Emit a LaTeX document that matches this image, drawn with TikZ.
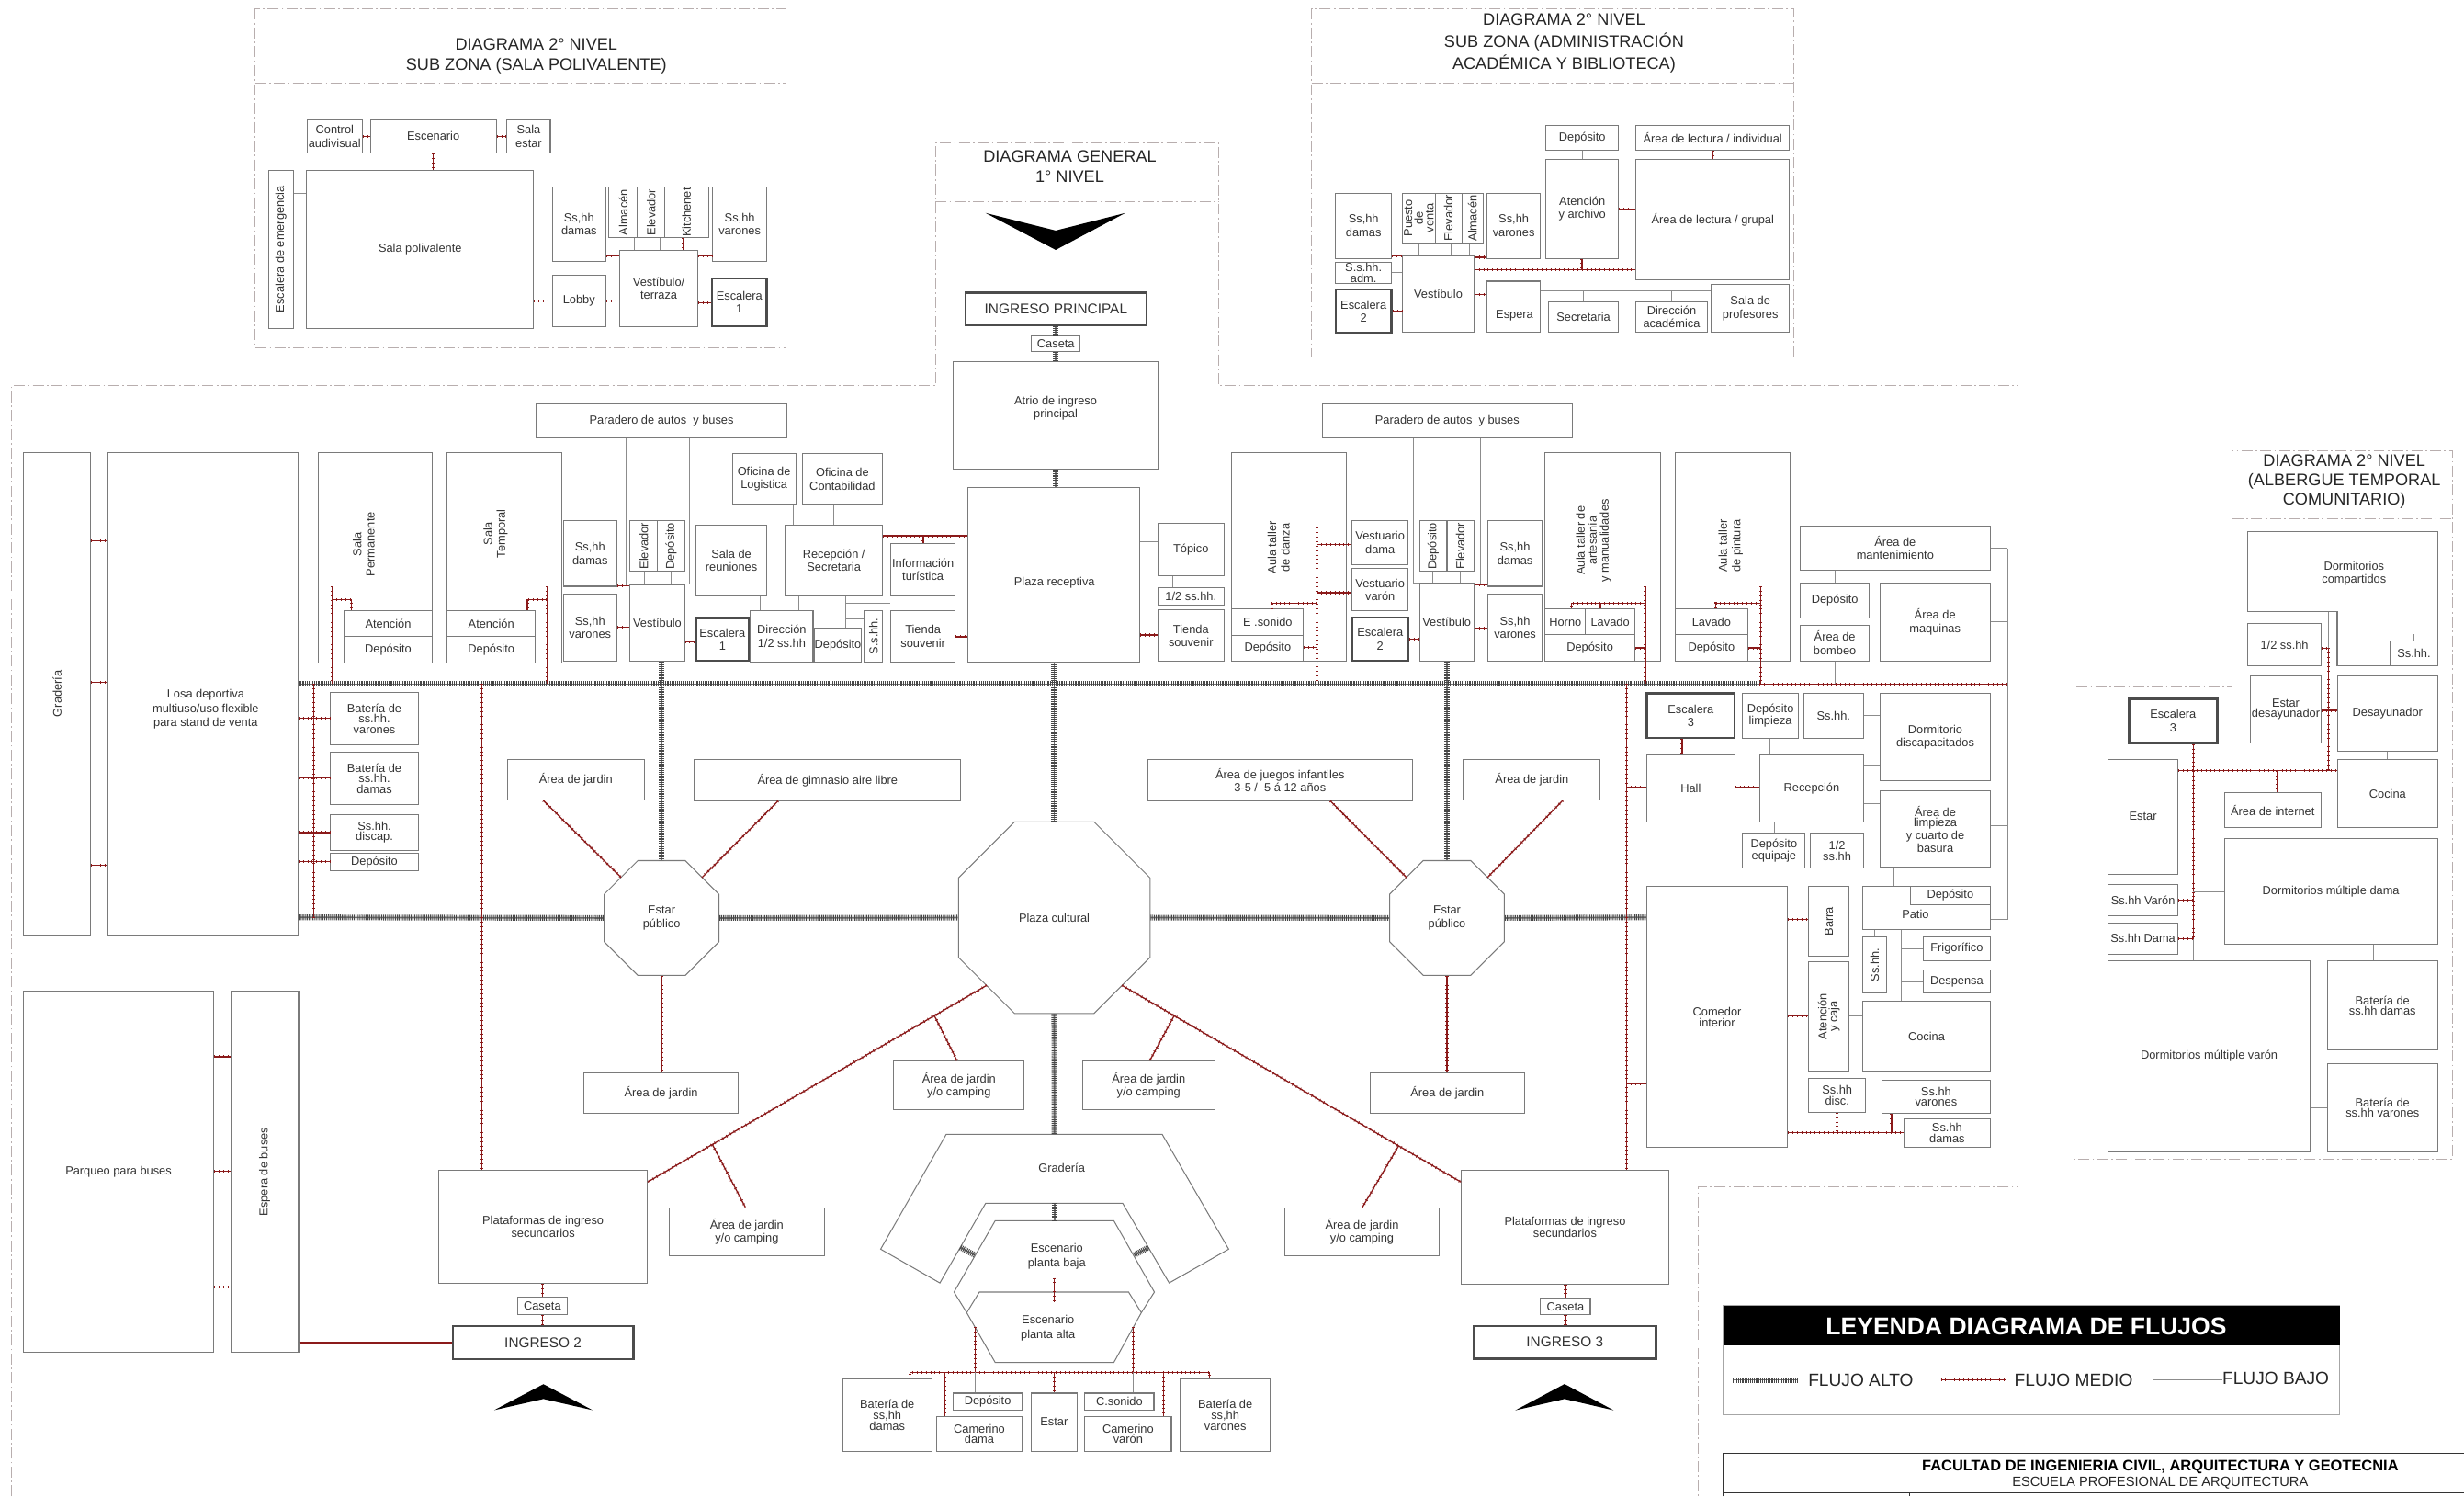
\documentclass[tikz,border=0pt]{standalone}
\usepackage{fontspec}
\setmainfont{Liberation Sans}
\usetikzlibrary{shapes.geometric,calc}
\definecolor{tcol}{HTML}{333333}
\definecolor{bcol}{HTML}{7A7A7A}
\definecolor{mred}{HTML}{8B1A1A}
\definecolor{agray}{HTML}{555555}
\definecolor{rcol}{HTML}{B8AEAE}
\tikzset{
 bx/.style={draw=bcol, line width=0.6pt, fill=white, inner sep=0pt, align=center, text=tcol},
 bxl/.style={draw=bcol, line width=0.6pt, fill=white},
 thk/.style={draw=black!70, line width=1.4pt},
 txt/.style={inner sep=0pt, align=center, text=tcol},
 tight/.style={font=\fontsize{7.5}{6.8}\selectfont},
 ttl/.style={inner sep=0pt, align=center, text=black!85, font=\fontsize{10.6}{12.7}\selectfont},
 oct/.style={draw=bcol, line width=0.6pt, fill=white, regular polygon, regular polygon sides=8, inner sep=0pt, align=center, text=tcol},
 reg/.style={draw=rcol, line width=0.5pt, dash pattern=on 7pt off 2pt on 1pt off 2pt},
 alto/.style={draw=black!55, line width=1pt, solid, postaction={draw=black!72, line width=3.6pt, dash pattern=on 0.55pt off 0.55pt}},
 medio/.style={draw=mred, line width=0.75pt, solid, postaction={draw=mred, line width=1.8pt, dash pattern=on 0.45pt off 2.4pt}},
 bajo/.style={draw=black!45, line width=0.45pt},
}
\newcommand\bx[7][]{%
  \pgfmathsetmacro\mybw{#5-#3}\pgfmathsetmacro\mybh{#6-#4}%
  \pgfmathsetmacro\mybcx{(#3+#5)/2}\pgfmathsetmacro\mybcy{(#4+#6)/2}%
  \node[bx,minimum width=\mybw pt,minimum height=\mybh pt,#1] (#2) at (\mybcx,\mybcy) {#7};}
\newcommand\rbx[7][]{%
  \pgfmathsetmacro\mybw{#5-#3}\pgfmathsetmacro\mybh{#6-#4}%
  \pgfmathsetmacro\mybcx{(#3+#5)/2}\pgfmathsetmacro\mybcy{(#4+#6)/2}%
  \node[bx,minimum width=\mybw pt,minimum height=\mybh pt] (#2) at (\mybcx,\mybcy) {};
  \node[txt,rotate=90,#1] (#2-t) at (\mybcx,\mybcy) {#7};}
\newcommand\HC[4][medio]{\draw[#1] (#2 |- 0,#4) -- (#3 |- 0,#4);}
\newcommand\VC[4][medio]{\draw[#1] (#2 -| #4,0) -- (#3 -| #4,0);}
\begin{document}
\begin{tikzpicture}[x=1pt,y=-1pt,font=\fontsize{7.5}{8.4}\selectfont]
\useasboundingbox (0,0) rectangle (1568,952);
\fill[white] (0,0) rectangle (1568,952);
%% ---------- dashed regions
\draw[reg] (162.3,5.5) rectangle (500.1,221.2);
\draw[reg] (162.3,53) -- (500.1,53);
\draw[reg] (834.6,5.5) rectangle (1141.2,227);
\draw[reg] (834.6,53) -- (1141.2,53);
\draw[reg] (7.4,952) -- (7.4,245.5) -- (595.3,245.5) -- (595.3,90.8) -- (775.5,90.8) -- (775.5,245.5) -- (1284,245.5) -- (1284,755.2) -- (1080.6,755.2) -- (1080.6,952);
\draw[reg] (595.3,128.4) -- (775.5,128.4);
\draw[reg] (1420.6,436.7) -- (1420.6,286.5) -- (1560.6,286.5) -- (1560.6,737.2) -- (1319.7,737.2) -- (1319.7,436.7) -- cycle;
\draw[reg] (1420.6,330.1) -- (1560.6,330.1);
%% titles
\node[ttl] (t1) at (341.3,35.5) {DIAGRAMA 2° NIVEL\\SUB ZONA (SALA POLIVALENTE)};
\node[ttl,font=\fontsize{10.6}{14.2}\selectfont] (t2) at (995.3,27.6) {DIAGRAMA 2° NIVEL\\SUB ZONA (ADMINISTRACIÓN\\ACADÉMICA Y BIBLIOTECA)};
\node[ttl,font=\fontsize{10.6}{12.8}\selectfont] (t3) at (680.8,105.7) {DIAGRAMA GENERAL\\1° NIVEL};
\node[ttl,font=\fontsize{10.6}{12.5}\selectfont] (t4) at (1491.8,306.4) {DIAGRAMA 2° NIVEL\\(ALBERGUE TEMPORAL\\COMUNITARIO)};
%% chevrons
\fill[black] (627.1,135.5) -- (671.8,159) -- (716.1,135.5) -- (671.8,146.7) -- cycle;
\fill[black] (345.8,880.6) -- (314.5,897.1) -- (345.8,890) -- (377.1,897.1) -- cycle;
\fill[black] (995.6,880.5) -- (964.3,897.2) -- (995.6,890) -- (1026.9,897.2) -- cycle;

%% ---------- Sala polivalente
\bx{spctl}{195.4}{76}{230.6}{97.4}{Control\\audivisual}
\bx{spesc}{235.7}{76}{315.8}{97.4}{Escenario}
\bx{spest}{322.7}{76}{350.2}{97.4}{Sala\\estar}
\rbx{speme}{170.8}{108.2}{186.9}{208.9}{Escalera de emergencia}
\bx{spsala}{195.2}{108.2}{339.5}{208.9}{Sala polivalente}
\bx{spdam}{351.4}{118.9}{385.6}{166.6}{Ss,hh\\damas}
\rbx{spalm}{387.6}{118.9}{405.7}{151.4}{Almacén}
\rbx{spele}{405.7}{118.9}{423}{151.4}{Elevador}
\rbx{spkit}{423}{118.9}{450.9}{151.4}{Kitchenet}
\bx{spvar}{453.6}{118.9}{487.8}{166.6}{Ss,hh\\varones}
\bx{splob}{351.4}{175}{385.6}{207.7}{Lobby}
\bx{spves}{394.3}{159.4}{444.2}{207.7}{Vestíbulo/\\terraza}
\bx[thk]{spe1}{453.2}{177}{487.8}{207.7}{Escalera\\1}

%% ---------- Admin / biblioteca
\bx{addep}{983.6}{79.9}{1030.1}{95.5}{Depósito}
\bx{adind}{1041}{79.9}{1138.8}{95.5}{Área de lectura / individual}
\bx{adate}{983.6}{101.3}{1030.1}{164.3}{Atención\\y archivo}
\bx{adgrp}{1041}{101.3}{1138.8}{178.3}{Área de lectura / grupal}
\bx{addam}{849.9}{122.8}{885.5}{164.3}{Ss,hh\\damas}
\rbx[tight]{adpue}{892.6}{122.8}{913.3}{154.9}{Puesto\\de\\venta}
\rbx{adele}{913.3}{122.8}{930.2}{154.9}{Elevador}
\rbx{adalm}{930.2}{122.8}{943.9}{154.9}{Almacén}
\bx{advar}{946.3}{122.8}{980.2}{164.3}{Ss,hh\\varones}
\bx[tight]{adadm}{849.9}{167}{885.5}{180.3}{S.s.hh.\\adm.}
\bx[thk]{ade2}{849.9}{184.2}{885.5}{211.8}{Escalera\\2}
\bx{adves}{892.6}{162.7}{937.9}{211.4}{Vestíbulo}
\bx{adesp}{946.3}{178.9}{980.2}{211.4}{}
\node[txt] (adesp-t) at (963.8,200.7) {Espera};
\bx{adsec}{985.2}{192}{1030.1}{211.4}{Secretaria}
\bx{addir}{1041}{192}{1086.5}{211.4}{Dirección\\académica}
\bx{adpro}{1088.9}{181.2}{1138.8}{211.4}{Sala de\\profesores}

%% ---------- General entrance
\bx[thk,font=\fontsize{9}{10}\selectfont]{ingp}{614.4}{186.3}{729.5}{207.1}{INGRESO PRINCIPAL}
\bx{caszero}{656.3}{213.8}{687.5}{223.5}{Caseta}
\bx{atrio}{606.3}{229.9}{737.2}{298.4}{}
\node[txt] (atrio-t) at (671.8,259.7) {Atrio de ingreso\\principal};
\bx{prec}{616.1}{310}{725.5}{421.4}{}
\node[txt] (prec-t) at (671,371) {Plaza receptiva};

%% ---------- Left block
\bx{parone}{341.3}{257.1}{500.7}{278.6}{Paradero de autos~ y buses}
\rbx{grad}{15.1}{288}{57.7}{594.7}{Gradería}
\bx{losa}{68.8}{288}{189.6}{594.7}{}
\node[txt,font=\fontsize{7.5}{9}\selectfont] (losa-t) at (130.9,451.3) {Losa deportiva\\multiuso/uso flexible\\para stand de venta};
\bx{salp}{202.3}{288}{275.2}{421.6}{}
\node[txt,rotate=90] (salp-t) at (231.5,346.2) {Sala\\Permanente};
\bx{salpat}{218.8}{388.7}{275.2}{404.8}{Atención}
\bx{salpdep}{218.8}{404.8}{275.2}{421.6}{Depósito}
\bx{salt}{284.6}{288}{357.4}{421.6}{}
\node[txt,rotate=90] (salt-t) at (315.4,339.5) {Sala\\Temporal};
\bx{saltat}{284.6}{388.7}{340.6}{404.8}{Atención}
\bx{saltdep}{284.6}{404.8}{340.6}{421.6}{Depósito}
\bx{ldam}{358.4}{331.2}{392.6}{373}{Ss,hh\\damas}
\bx{lvar}{358.4}{377.9}{392.6}{420.4}{Ss,hh\\varones}
\rbx{lele}{401}{331.2}{418.5}{363.6}{Elevador}
\rbx{ldep}{418.5}{331.2}{435.6}{363.6}{Depósito}
\bx{lves}{401}{371.9}{435.6}{420.4}{Vestíbulo}
\bx[thk]{leone}{443}{393.2}{476.5}{420.4}{Escalera\\1}
\bx{ldir}{477.5}{388.3}{517.4}{421.4}{Dirección\\1/2 ss.hh}
\bx{lreu}{443}{334}{487.8}{379}{Sala de\\reuniones}
\bx{llog}{466.1}{288.8}{506.3}{320.8}{Oficina de\\Logistica}
\bx{lcon}{510.4}{288.8}{561.7}{320.8}{Oficina de\\Contabilidad}
\bx{lrec}{499.6}{334.2}{561.7}{378.9}{Recepción /\\Secretaria}
\bx{linf}{566.7}{345.8}{608}{378.9}{Información\\turística}
\bx{ldeptwo}{518.1}{399.5}{548.3}{421.4}{Depósito}
\rbx{lssh}{550}{388.3}{561.7}{421.4}{S.s.hh.}
\bx{ltie}{566.7}{388.3}{608}{421.4}{Tienda\\souvenir}
\bx[tight]{bv}{210.4}{440.8}{266.1}{473.7}{Batería de\\ss.hh.\\varones}
\bx[tight]{bd}{210.4}{478.8}{266.1}{511.7}{Batería de\\ss.hh.\\damas}
\bx[tight]{bdis}{210.4}{518.4}{266.1}{540.8}{Ss.hh.\\discap.}
\bx{bdep}{210.4}{543}{266.1}{553.8}{Depósito}

%% ---------- Right block
\bx{rtop}{736.9}{332.9}{778.8}{366}{Tópico}
\bx{rhalf}{736.9}{373.8}{778.8}{385}{1/2 ss.hh.}
\bx{rtie}{736.9}{387.9}{778.8}{420.8}{Tienda\\souvenir}
\bx{danza}{783.9}{288.1}{857}{420.8}{}
\node[txt,rotate=90] (danza-t) at (813.7,348.4) {Aula taller\\de danza};
\bx{dzson}{783.9}{387.2}{829.5}{404}{E .sonido}
\bx{dzdep}{783.9}{404}{829.5}{420.8}{Depósito}
\bx{rvd}{860.5}{331.2}{896}{359}{Vestuario\\dama}
\bx{rvv}{860.5}{361.8}{896}{388.7}{Vestuario\\varón}
\bx[thk]{retwo}{860.5}{392.7}{896}{420.4}{Escalera\\2}
\bx{partwo}{841.3}{257.1}{1000.7}{278.6}{Paradero de autos~ y buses}
\rbx{rdep}{903.3}{331.2}{920.8}{363.6}{Depósito}
\rbx{rele}{920.8}{331.2}{937.9}{363.6}{Elevador}
\bx{rves}{903.3}{371.2}{937.9}{420.4}{Vestíbulo}
\bx{rdam}{947}{331.2}{981.2}{373}{Ss,hh\\damas}
\bx{rvar}{947}{377.9}{981.2}{420.4}{Ss,hh\\varones}
\bx{art}{983.2}{288}{1056.7}{420.4}{}
\node[txt,rotate=90,font=\fontsize{7.5}{7.6}\selectfont] (art-t) at (1014.1,343.9) {Aula taller de\\artesanía\\y manualidades};
\bx{arthor}{983.2}{387.6}{1009}{403.9}{Horno}
\bx{artlav}{1009}{387.6}{1040.3}{403.9}{Lavado}
\bx{artdep}{983.2}{403.9}{1040.3}{420.4}{Depósito}
\bx{pin}{1066.1}{288}{1139.3}{420.4}{}
\node[txt,rotate=90] (pin-t) at (1101.3,347.3) {Aula taller\\de pintura};
\bx{pinlav}{1066.1}{387.6}{1112.1}{403.9}{Lavado}
\bx{pindep}{1066.1}{403.9}{1112.1}{420.4}{Depósito}
\bx{mant}{1145.6}{334.5}{1266.4}{362.5}{Área de\\mantenimiento}
\bx{mdep}{1145.6}{370.8}{1189.6}{393.1}{Depósito}
\bx{bomb}{1145.6}{397.6}{1189.6}{420.4}{Área de\\bombeo}
\bx{maq}{1196.3}{370.8}{1266.4}{420.4}{Área de\\maquinas}

%% ---------- Albergue level 1 column
\bx[thk]{ethree}{1048}{441}{1103.9}{469.5}{Escalera\\3}
\bx[tight]{dlim}{1109}{441}{1144.3}{469.5}{Depósito\\limpieza}
\bx{sshone}{1147.8}{441}{1185.8}{469.5}{Ss.hh.}
\bx{ddis}{1196.5}{441}{1266.6}{496.9}{Dormitorio\\discapacitados}
\bx{hall}{1048}{480}{1103.9}{523.2}{Hall}
\bx{recp}{1119.9}{480}{1185.8}{523.2}{Recepción}
\bx[tight]{deq}{1109}{529.9}{1148.7}{552.4}{Depósito\\equipaje}
\bx[tight]{hss}{1152.2}{529.9}{1185.8}{552.4}{1/2\\ss.hh}
\bx[tight]{alim}{1196.5}{502.8}{1266.6}{551.9}{Área de\\limpieza\\y cuarto de\\basura}
\bx[tight]{com}{1048}{564}{1137.4}{730}{Comedor\\interior}
\rbx{barra}{1151.1}{564}{1176.6}{608.3}{Barra}
\rbx[tight]{aten}{1151.1}{611.8}{1176.6}{681.6}{Atención\\y caja}
\bx{patio}{1185.4}{564}{1266.6}{591.6}{}
\bx{pdep}{1215.6}{564}{1266.6}{575.5}{Depósito}
\node[txt] (patio-t) at (1218.9,581.4) {Patio};
\rbx{pssh}{1185.4}{596.2}{1200.4}{631.9}{Ss.hh.}
\bx{frig}{1223.8}{596.2}{1266.6}{611}{Frigorífico}
\bx{desp}{1223.8}{617.2}{1266.6}{631.9}{Despensa}
\bx{coc}{1185.4}{637}{1266.6}{681.6}{Cocina}
\bx[tight]{sdis}{1151.1}{686.1}{1187.1}{707.6}{Ss.hh\\disc.}
\bx[tight]{svar}{1197.5}{687}{1266.6}{708.4}{Ss.hh\\varones}
\bx[tight]{sdam}{1211.5}{711.6}{1266.6}{730}{Ss.hh\\damas}

%% ---------- Lower central area
\bx{jdone}{322.8}{483.1}{410.1}{509}{Área de jardin}
\bx{gim}{441.8}{483.2}{611.5}{509.3}{Área de gimnasio aire libre}
\bx[tight]{jue}{730.2}{483.2}{898.9}{509.3}{Área de juegos infantiles\\3-5 /~~5 á 12 años}
\bx{jdtwo}{931.2}{483.1}{1018.4}{509}{Área de jardin}
\node[oct,minimum size=79pt] (estL) at (421,584) {Estar\\público};
\node[oct,minimum size=79pt] (estR) at (920.8,584) {Estar\\público};
\node[oct,minimum size=132pt] (plaza) at (670.9,583.8) {Plaza cultural};
\bx{jdthree}{371.5}{682.7}{469.9}{708.2}{Área de jardin}
\bx{jdfour}{871.8}{682.7}{970.2}{708.2}{Área de jardin}
\bx{cpone}{568.8}{675}{651.7}{706}{Área de jardin\\y/o camping}
\bx{cptwo}{689}{675}{772.9}{706}{Área de jardin\\y/o camping}
\bx{cpthree}{425.8}{768.3}{524.7}{798.9}{Área de jardin\\y/o camping}
\bx{cpfour}{817.5}{768.3}{915.9}{798.9}{Área de jardin\\y/o camping}
\bx[tight]{platone}{279.4}{744.5}{411.8}{816.7}{Plataformas de ingreso\\secundarios}
\bx[tight]{plattwo}{930}{744.8}{1061.8}{816.8}{Plataformas de ingreso\\secundarios}
\bx{casone}{329.4}{825.2}{360.9}{836.6}{Caseta}
\bx{castwo}{980.4}{825.8}{1012}{836.6}{Caseta}
\bx[thk,font=\fontsize{9}{10}\selectfont]{ingtwo}{288.2}{843.6}{403}{864.6}{INGRESO 2}
\bx[thk,font=\fontsize{9}{10}\selectfont]{ingthree}{938}{843.5}{1053.7}{864.4}{INGRESO 3}
\bx{parq}{14.9}{630.5}{136}{860.4}{Parqueo para buses}
\rbx{espb}{146.9}{630.5}{190}{860.4}{Espera de buses}

%% ---------- Gradería / escenario
\draw[bxl] (602.1,721.7) -- (739.6,721.7) -- (781.9,794.7) -- (744,816.2) -- (714.4,765.5) -- (627.2,765.5) -- (598.1,816.2) -- (560.4,794.7) -- cycle;
\node[txt] (grtwo) at (675.6,743.1) {Gradería};
\draw[bxl] (607.1,822) -- (633.3,776.6) -- (708.8,776.6) -- (734.6,822) -- (726.3,835.1) -- (615.2,835.1) -- cycle;
\draw[bxl] (623.2,822) -- (718.2,822) -- (726.3,835.1) -- (708.8,866.8) -- (633.3,866.8) -- (615.2,835.1) -- cycle;
\node[txt,font=\fontsize{7.5}{9.2}\selectfont] (epb) at (672.5,799.3) {Escenario\\planta baja};
\node[txt,font=\fontsize{7.5}{9.2}\selectfont] (epa) at (666.9,845.1) {Escenario\\planta alta};
\bx[tight]{bbd}{536.2}{877.4}{593}{923.2}{Batería de\\ss,hh\\damas}
\bx{bdeptwo}{606.7}{886.3}{650.4}{897}{Depósito}
\bx[tight]{bcd}{596}{901.3}{650.4}{923.2}{Camerino\\dama}
\bx{best}{656.4}{886.3}{685.2}{923.2}{Estar}
\bx{bcs}{690.3}{886.3}{734.3}{897}{C.sonido}
\bx[tight]{bcv}{690.3}{901.3}{745.4}{923.2}{Camerino\\varón}
\bx[tight]{bbv}{751}{877.4}{808.4}{923.2}{Batería de\\ss,hh\\varones}

%% ---------- Albergue 2nd level
\draw[bxl] (1430.4,338) -- (1551.2,338) -- (1551.2,423.5) -- (1487.3,423.5) -- (1487.3,389.3) -- (1430.4,389.3) -- cycle;
\node[txt] (adc) at (1498,364.8) {Dormitorios\\compartidos};
\bx{assh}{1521}{407.9}{1551.2}{423.5}{Ss.hh.}
\bx{ahalf}{1430.4}{396.4}{1477.1}{423.8}{1/2 ss.hh}
\bx[tight]{aed}{1432}{429.9}{1477.1}{472.7}{Estar\\desayunador}
\bx{ades}{1487.5}{429.9}{1551.2}{478}{Desayunador}
\bx{acoc}{1487.5}{483}{1551.2}{526.6}{Cocina}
\bx[thk]{aethree}{1354.8}{444.7}{1410.9}{472.7}{Escalera\\3}
\bx{aest}{1341.3}{483}{1386.1}{556}{Estar}
\bx{aint}{1415.4}{504.5}{1477.1}{526.6}{Área de internet}
\bx{amd}{1415.4}{533.3}{1551.2}{600.8}{Dormitorios múltiple dama}
\bx{asv}{1341.3}{562.8}{1386.1}{582.5}{Ss.hh Varón}
\bx{asd}{1341.3}{587}{1386.1}{607}{Ss.hh Dama}
\bx{amv}{1341.3}{611.4}{1470.3}{732.7}{Dormitorios múltiple varón}
\bx[tight]{abd}{1481}{611.4}{1551.2}{668}{Batería de\\ss.hh damas}
\bx[tight]{abv}{1481}{676.8}{1551.2}{732.7}{Batería de\\ss.hh varones}

%% ================= CONNECTORS
%% Sala polivalente
\HC{spctl.east}{spesc.west}{86.7}
\HC{spesc.east}{spest.west}{86.7}
\VC{spesc.south}{spsala.north}{275.7}
\HC[bajo]{speme.east}{spsala.west}{123.2}
\HC{spsala.east}{splob.west}{191.6}
\HC{splob.east}{spves.west}{191.6}
\HC{spdam.east}{spves.west}{162.7}
\HC{spves.east}{spvar.west}{162.7}
\HC{spves.east}{spe1.west}{192.5}
\VC[bajo]{spalm.south}{spves.north}{403.4}
\VC[bajo]{spele.south}{spves.north}{420}
\VC{spkit.south}{spves.north}{434.6}
%% Admin
\VC[bajo]{addep.south}{adate.north}{1006.7}
\VC{adind.south}{adgrp.north}{1089.9}
\HC{adate.east}{adgrp.west}{133.1}
\HC{adves.east}{adgrp.west}{171.5}
\draw[medio] (adate.south -| 1006.7,0) -- (1006.7,171.5);
\HC{addam.east}{adves.west}{162.7}
\HC{adves.east}{advar.west}{163.7}
\VC[bajo]{adpue.south}{adves.north}{903.1}
\VC[bajo]{adele.south}{adves.north}{923.4}
\VC[bajo]{adalm.south}{adves.north}{934.9}
\HC[bajo]{adadm.east}{adves.west}{173.4}
\HC{ade2.east}{adves.west}{197.8}
\HC{adves.east}{adesp.west}{187.5}
\HC[bajo]{adesp.east}{adpro.west}{185.1}
\draw[bajo] (1007.3,185.1) -- (adsec.north -| 1007.3,0);
\draw[bajo] (1063.7,185.1) -- (addir.north -| 1063.7,0);
%% Entrance spine
\VC[alto]{ingp.south}{caszero.north}{671.9}
\VC[alto]{caszero.south}{atrio.north}{671.9}
\VC[alto]{atrio.south}{prec.north}{671.9}
\draw[alto] (prec.south -| plaza.90) -- (plaza.90);
%% main trunks
\coordinate (trA) at (1119.8,435.2);
\coordinate (vR) at (1035,435.2);
\draw[alto] (losa.east |- 0,435.2) -- (trA);
\draw[medio] (trA) -- (1277.5,435.2);
\draw[alto] (lves.south -| estL.90) -- (estL.90);
\draw[alto] (rves.south -| estR.90) -- (estR.90);
\draw[alto] (losa.east |- 0,583.6) -- (estL.180);
\draw[alto] (estL.0) -- (plaza.180);
\draw[alto] (plaza.0) -- (estR.180);
\draw[alto] (estR.0) -- (com.west |- 0,583.6);
\draw[medio] (199.7,435.2) -- (199.7,583.6);
\HC{losa.east}{bv.west}{456.9}
\HC{losa.east}{bd.west}{494.9}
\HC{losa.east}{bdis.west}{529.6}
\HC{losa.east}{bdep.west}{548.2}
\draw[medio] (306.5,435.2) -- (platone.north -| 306.5,0);
\draw[medio] (vR) -- (plattwo.north -| vR);
\HC{grad.east}{losa.west}{343.9}
\HC{grad.east}{losa.west}{433.9}
\HC{grad.east}{losa.west}{550.4}
%% salas
\draw[medio] (211.4,373) -- (211.4,435.2);
\draw[medio] (211.4,381.5) -| (salpat.north -| 223.8,0);
\draw[medio] (348,373) -- (348,435.2);
\draw[medio] (348,381.5) -| (saltat.north -| 335.6,0);
%% left vestibulo group
\draw[bajo] (parone.south -| 398.3,0) -- (398.3,372.6);
\HC{ldam.east}{lves.west}{372.6}
\draw[bajo] (parone.south -| 438.9,0) |- (lves.north east);
\HC{lvar.east}{lves.west}{399.2}
\HC{lves.east}{leone.west}{408.4}
\VC[bajo]{lele.south}{lves.north}{410.1}
\VC[bajo]{ldep.south}{lves.north}{426.8}
\VC[bajo]{llog.south}{lrec.north}{504.7}
\VC[bajo]{lcon.south}{lrec.north}{530.5}
\HC[bajo]{lreu.east}{lrec.west}{356.6}
\HC{lrec.east}{prec.west}{340.9}
\draw[medio] (587.5,340.9) -- (linf.north -| 587.5,0);
\VC[bajo]{lreu.south}{ldir.north}{483.5}
\VC[bajo]{lrec.south}{ldir.north}{508}
\VC[bajo]{lrec.south}{ldeptwo.north}{538.2}
\draw[bajo] (538.2,384) -- (ltie.west |- 0,384);
\draw[bajo] (538.2,393.5) -- (lssh.west |- 0,393.5);
\HC{ltie.east}{prec.west}{405.1}
\HC[bajo]{prec.east}{rtop.west}{344.7}
\VC[bajo]{rtop.south}{rhalf.north}{746.3}
\HC{prec.east}{rtie.west}{404}
%% danza
\draw[medio] (837.9,335.8) -- (837.9,435.2);
\draw[medio] (837.9,346.5) -- (rvd.west |- 0,346.5);
\draw[medio] (837.9,377.1) -- (rvv.west |- 0,377.1);
\draw[medio] (837.9,383.9) -| (dzson.north -| 809.4,0);
\draw[medio] (dzdep.east |- 0,411.8) -- (837.9,411.8);
%% right vestibulo group
\draw[bajo] (partwo.south -| 899.3,0) |- (rves.north west);
\draw[bajo] (partwo.south -| 941.9,0) -- (941.9,372.3);
\HC{rves.east}{rdam.west}{372.3}
\VC[bajo]{rdep.south}{rves.north}{911.7}
\VC[bajo]{rele.south}{rves.north}{929.2}
\HC{retwo.east}{rves.west}{406.6}
\HC{rves.east}{rvar.west}{399.9}
%% talleres
\draw[medio] (1047,373) -- (1047,435.2);
\draw[medio] (1047,383.8) -| (arthor.north -| 1000,0);
\draw[medio] (1018.4,383.8) -- (artlav.north -| 1018.4,0);
\draw[medio] (artdep.east |- 0,412.2) -- (1047,412.2);
\draw[medio] (1120.5,373) -- (1120.5,435.2);
\draw[medio] (1120.5,383.8) -| (pinlav.north -| 1091.9,0);
\draw[medio] (pindep.east |- 0,412.2) -- (1120.5,412.2);
%% mantenimiento
\VC[bajo]{mant.south}{mdep.north}{1167.8}
\draw[bajo] (bomb.south -| 1167.8,0) -- (1167.8,435.2);
\draw[bajo] (1277.5,348.9) -- (1277.5,585.1);
\draw[bajo] (mant.east |- 0,348.9) -- (1277.5,348.9);
\draw[bajo] (maq.east |- 0,395.4) -- (1277.5,395.4);
\draw[bajo] (alim.east |- 0,525.1) -- (1277.5,525.1);
\draw[bajo] (patio.east |- 0,585.1) -- (1277.5,585.1);
%% hall / recepcion / comedor
\VC{ethree.south}{hall.north}{1070.4}
\draw[medio] (vR |- 0,501) -- (hall.west |- 0,501);
\HC{hall.east}{recp.west}{501}
\VC[bajo]{dlim.south}{recp.north}{1126.3}
\HC[bajo]{sshone.east}{ddis.west}{455.3}
\HC[bajo]{recp.east}{ddis.west}{486.7}
\HC[bajo]{recp.east}{alim.west}{511.1}
\VC[bajo]{recp.south}{deq.north}{1128.9}
\VC[bajo]{recp.south}{hss.north}{1168.8}
\VC[bajo]{alim.south}{patio.north}{1205.3}
\HC{com.east}{barra.west}{584.9}
\HC{com.east}{aten.west}{646.4}
\HC[bajo]{aten.east}{coc.west}{646.4}
\VC[bajo]{patio.south}{pssh.north}{1192.6}
\draw[bajo] (patio.south -| 1210.1,0) -- (coc.north -| 1210.1,0);
\draw[bajo] (1210.1,603.7) -- (frig.west |- 0,603.7);
\draw[bajo] (1210.1,624.4) -- (desp.west |- 0,624.4);
\draw[medio] (com.east |- 0,720.5) -- (sdam.west |- 0,720.5);
\draw[medio] (sdis.south -| 1168.8,0) -- (1168.8,720.5);
\draw[medio] (svar.south -| 1203.7,0) -- (1203.7,720.5);
\draw[medio] (vR |- 0,689.6) -- (com.west |- 0,689.6);
%% octagons and gardens
\draw[medio] (jdone.south -| 345.8,0) -- ($(estL.center)+(-25.8,-25.8)$);
\draw[medio] (gim.south -| 495.1,0) -- ($(estL.center)+(25.8,-25.8)$);
\draw[medio] (jue.south -| 846.6,0) -- ($(estR.center)+(-25.8,-25.8)$);
\draw[medio] (jdtwo.south -| 994.4,0) -- ($(estR.center)+(25.8,-25.8)$);
\draw[medio] (estL.270) -- (jdthree.north -| estL.270);
\draw[medio] (estR.270) -- (jdfour.north -| estR.270);
\coordinate (pdl) at ($(plaza.center)+(-43.1,43.1)$);
\coordinate (pdr) at ($(plaza.center)+(43.1,43.1)$);
\coordinate (pone) at (platone.east |- 0,752);
\coordinate (ptwo) at (plattwo.west |- 0,752);
\draw[medio] (pdl) -- (pone);
\draw[medio] ($(pdl)!0.154!(pone)$) -- (cpone.north -| 609,0);
\draw[medio] ($(pdl)!0.809!(pone)$) -- (cpthree.north -| 474.3,0);
\draw[medio] (pdr) -- (ptwo);
\draw[medio] ($(pdr)!0.154!(ptwo)$) -- (cptwo.north -| 731.7,0);
\draw[medio] ($(pdr)!0.816!(ptwo)$) -- (cpfour.north -| 867,0);
%% secondary entries
\VC{platone.south}{casone.north}{345.1}
\VC{casone.south}{ingtwo.north}{345.1}
\VC{plattwo.south}{castwo.north}{996.2}
\VC{castwo.south}{ingthree.north}{996.2}
\HC{espb.east}{ingtwo.west}{854.2}
\HC{parq.east}{espb.west}{672.3}
\HC{parq.east}{espb.west}{745.2}
\HC{parq.east}{espb.west}{818.8}
%% escenario
\coordinate (grtop) at (671,721.7);
\draw[alto] (plaza.270) -- (grtop);
\draw[alto] (671,765.5) -- (671,776.6);
\draw[alto] (611.1,793.6) -- (620.2,798.4);
\draw[alto] (721.9,798.4) -- (730.9,793.6);
\draw[medio] (671,813) -- (671,828.3);
\coordinate (bh) at (578.9,873.1);
\draw[medio] (620.6,844.2) -- (620.6,873.1);
\draw[medio] (721.3,844.2) -- (721.3,873.1);
\draw[medio] (bbd.north -| bh) -- (bh) -- (769.8,873.1) -- (bbv.north -| 769.8,0);
\draw[medio] (601.5,873.1) -- (bcd.north -| 601.5,0);
\draw[medio] (670.9,873.1) -- (best.north -| 670.9,0);
\draw[medio] (740.6,873.1) -- (bcv.north -| 740.6,0);
\draw[bajo] (620.6,873.1) -- (bdeptwo.north -| 620.6,0);
\draw[bajo] (721.3,873.1) -- (bcs.north -| 721.3,0);
%% albergue
\draw[medio] (aethree.south -| 1395.7,0) -- (1395.7,597.3);
\draw[medio] (aest.east |- 0,490.3) -- (acoc.west |- 0,490.3);
\draw[bajo] (1481.6,389.6) -- (1481.6,412.3);
\draw[medio] (1481.6,412.3) -- (1481.6,490.3);
\draw[medio] (ahalf.east |- 0,412.3) -- (1481.6,412.3);
\draw[medio] (aed.east |- 0,452) -- (ades.west |- 0,452);
\draw[medio] (1448.9,490.3) -- (aint.north -| 1448.9,0);
\draw[medio] (asv.east |- 0,572.8) -- (1395.7,572.8);
\draw[medio] (asd.east |- 0,597.3) -- (1395.7,597.3);
\draw[bajo] (1395.7,567.2) -- (amd.west |- 0,567.2);
\draw[bajo] (1395.7,597.3) -- (amv.north -| 1395.7,0);
\draw[bajo] (ades.south -| 1519,0) -- (acoc.north -| 1519,0);
\draw[bajo] (amd.south -| 1510.3,0) -- (abd.north -| 1510.3,0);
\draw[bajo] (amv.east |- 0,704.8) -- (abv.west |- 0,704.8);
\draw[bajo] (1536,403.5) -- (assh.north -| 1536,0);

%% ---------- Legend
\draw[draw=black!35, line width=0.6pt] (1096.5,830.6) rectangle (1488.9,900.3);
\node[fill=black, inner sep=0pt, minimum width=392.4pt, minimum height=25.5pt] (lgh) at (1292.7,843.35) {};
\node[text=white, inner sep=0pt, font=\fontsize{15.5}{16}\selectfont\bfseries] (lgt) at (1289.4,843.6) {LEYENDA DIAGRAMA DE FLUJOS};
\coordinate (la1) at (1102.7,877.9); \coordinate (la2) at (1143.6,877.9);
\draw[alto] (la1) -- (la2);
\node[anchor=west, inner sep=0pt, text=black!85, font=\fontsize{11.2}{12}\selectfont] (lat) at (1150.5,877.9) {FLUJO ALTO};
\coordinate (lm1) at (1235.1,877.9); \coordinate (lm2) at (1276.4,877.9);
\draw[medio] (lm1) -- (lm2);
\node[anchor=west, inner sep=0pt, text=black!85, font=\fontsize{11.2}{12}\selectfont] (lmt) at (1281.7,877.9) {FLUJO MEDIO};
\coordinate (lb1) at (1370,877.9);
\node[anchor=west, inner sep=0pt, text=black!85, font=\fontsize{11.2}{12}\selectfont] (lbt) at (1414.1,877) {FLUJO BAJO};
\draw[bajo] (lb1) -- (lbt.west |- lb1);
%% ---------- title block
\draw[black!80, line width=0.8pt] (1096.5,952) -- (1096.5,924.7) -- (1568,924.7);
\draw[black!80, line width=0.6pt] (1096.5,949.6) -- (1568,949.6);
\draw[black!80, line width=0.6pt] (1215,949.6) -- (1215,952);
\node[inner sep=0pt, text=black, font=\fontsize{9.6}{10}\selectfont\bfseries] (tb1) at (1374.7,933.5) {FACULTAD DE INGENIERIA CIVIL, ARQUITECTURA Y GEOTECNIA};
\node[inner sep=0pt, text=black!85, font=\fontsize{8.6}{9}\selectfont] (tb2) at (1374.7,943.2) {ESCUELA PROFESIONAL DE ARQUITECTURA};
\end{tikzpicture}
\end{document}
